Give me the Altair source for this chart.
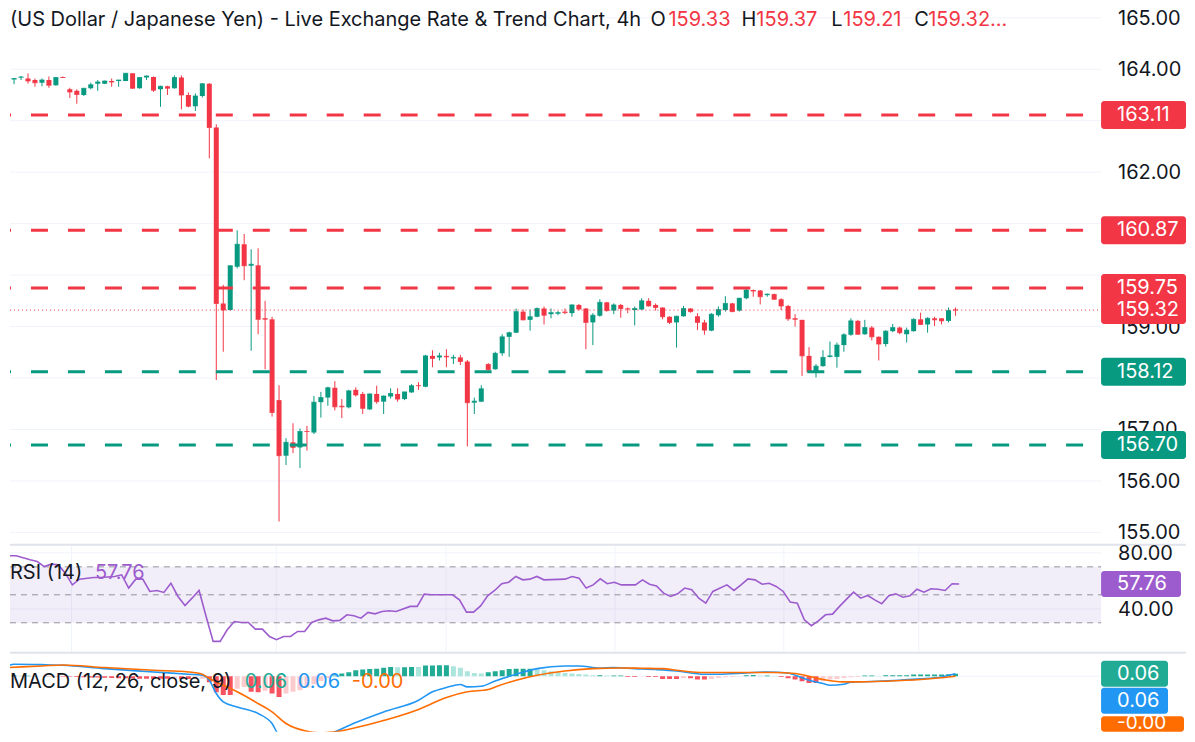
import altair as alt
import numpy as np
import pandas as pd

# USD/JPY 4h candles, oldest first
opens = [163.46, 163.80, 163.84, 163.82, 163.79, 163.74, 163.79, 163.69, 163.85, 163.61,
         163.58, 163.50, 163.63, 163.72, 163.72, 163.77, 163.77, 163.77, 163.92, 163.63,
         163.84, 163.85, 163.61, 163.67, 163.63, 163.84, 163.50, 163.28, 163.48, 163.72,
         162.87, 159.45, 159.32, 160.16, 160.60, 160.18, 160.19, 159.16, 159.14, 157.57,
         156.49, 156.75, 156.65, 156.97, 156.94, 157.53, 157.62, 157.81, 157.46, 157.43,
         157.77, 157.69, 157.39, 157.69, 157.54, 157.64, 157.69, 157.59, 157.72, 157.86,
         157.83, 158.43, 158.40, 158.43, 158.38, 158.40, 158.32, 157.52, 157.54, 158.27,
         158.17, 158.48, 158.80, 158.88, 159.29, 159.13, 159.19, 159.35, 159.24, 159.25,
         159.29, 159.26, 159.42, 159.35, 159.08, 159.21, 159.47, 159.31, 159.42, 159.35,
         159.32, 159.33, 159.50, 159.42, 159.37, 159.19, 159.08, 159.20, 159.35, 159.20,
         159.08, 158.92, 159.22, 159.32, 159.45, 159.31, 159.55, 159.71, 159.70, 159.61,
         159.63, 159.53, 159.40, 159.16, 159.13, 158.43, 158.12, 158.23, 158.41, 158.41,
         158.64, 158.84, 159.11, 158.85, 158.98, 158.80, 158.66, 158.91, 158.98, 158.85,
         158.91, 159.14, 159.04, 159.16, 159.16, 159.11, 159.33]
highs = [163.81, 163.83, 163.87, 163.92, 163.82, 163.82, 163.86, 163.85, 163.86, 163.64,
         163.61, 163.63, 163.74, 163.79, 163.78, 163.82, 163.79, 163.92, 163.92, 163.84,
         163.88, 163.86, 163.68, 163.68, 163.88, 163.88, 163.55, 163.53, 163.73, 163.73,
         162.93, 159.81, 160.19, 160.87, 160.80, 160.50, 160.52, 159.50, 159.19, 157.86,
         156.83, 157.12, 157.02, 157.07, 157.65, 157.73, 157.83, 157.94, 157.59, 157.77,
         157.82, 157.73, 157.70, 157.85, 157.66, 157.80, 157.80, 157.73, 157.88, 157.92,
         158.45, 158.54, 158.49, 158.56, 158.45, 158.45, 158.35, 157.62, 157.86, 158.29,
         158.51, 158.85, 158.90, 159.35, 159.33, 159.33, 159.37, 159.39, 159.35, 159.30,
         159.35, 159.43, 159.44, 159.36, 159.26, 159.53, 159.48, 159.45, 159.44, 159.37,
         159.39, 159.55, 159.55, 159.45, 159.37, 159.20, 159.21, 159.40, 159.36, 159.26,
         159.13, 159.26, 159.39, 159.59, 159.46, 159.56, 159.77, 159.72, 159.71, 159.64,
         159.64, 159.55, 159.42, 159.24, 159.13, 158.60, 158.27, 158.54, 158.71, 158.69,
         158.87, 159.16, 159.13, 159.13, 159.01, 158.81, 158.93, 159.05, 159.00, 158.98,
         159.16, 159.27, 159.18, 159.19, 159.16, 159.37, 159.37]
lows = [163.45, 163.71, 163.79, 163.72, 163.66, 163.67, 163.64, 163.68, 163.83, 163.44,
        163.33, 163.48, 163.61, 163.58, 163.71, 163.66, 163.66, 163.77, 163.62, 163.62,
        163.79, 163.56, 163.27, 163.50, 163.62, 163.22, 163.26, 163.19, 163.45, 162.27,
        157.96, 158.51, 159.31, 160.13, 159.90, 158.53, 158.85, 158.17, 157.25, 155.21,
        156.31, 156.54, 156.25, 156.59, 156.91, 157.23, 157.46, 157.37, 157.22, 157.41,
        157.64, 157.30, 157.38, 157.50, 157.30, 157.60, 157.54, 157.57, 157.71, 157.77,
        157.82, 158.21, 158.34, 158.21, 158.27, 158.25, 156.67, 157.30, 157.53, 158.14,
        158.16, 158.43, 158.41, 158.87, 159.12, 158.92, 159.18, 159.04, 159.16, 159.22,
        159.24, 159.19, 159.31, 158.56, 158.64, 159.19, 159.29, 159.24, 159.17, 159.26,
        159.02, 159.32, 159.39, 159.31, 159.14, 159.05, 158.59, 159.19, 159.27, 158.93,
        158.84, 158.91, 159.19, 159.29, 159.28, 159.29, 159.53, 159.58, 159.43, 159.58,
        159.52, 159.32, 159.11, 159.00, 158.04, 158.10, 158.01, 158.22, 158.40, 158.20,
        158.51, 158.82, 158.84, 158.84, 158.73, 158.34, 158.61, 158.89, 158.85, 158.69,
        158.90, 159.03, 158.88, 159.01, 159.04, 159.08, 159.21]
closes = [163.80, 163.82, 163.85, 163.77, 163.74, 163.79, 163.69, 163.84, 163.84, 163.56,
          163.51, 163.63, 163.70, 163.75, 163.77, 163.75, 163.79, 163.92, 163.63, 163.84,
          163.87, 163.59, 163.67, 163.63, 163.84, 163.50, 163.28, 163.48, 163.72, 162.87,
          159.45, 159.32, 160.18, 160.60, 160.18, 160.21, 159.14, 159.14, 157.33, 156.49,
          156.75, 156.65, 156.96, 156.96, 157.53, 157.62, 157.81, 157.44, 157.44, 157.75,
          157.67, 157.41, 157.69, 157.54, 157.65, 157.70, 157.59, 157.73, 157.85, 157.85,
          158.43, 158.38, 158.43, 158.41, 158.40, 158.32, 157.52, 157.55, 157.79, 158.16,
          158.48, 158.80, 158.88, 159.29, 159.13, 159.19, 159.35, 159.22, 159.27, 159.27,
          159.27, 159.42, 159.34, 159.08, 159.22, 159.47, 159.31, 159.42, 159.35, 159.34,
          159.35, 159.50, 159.40, 159.37, 159.19, 159.08, 159.20, 159.35, 159.29, 159.08,
          158.93, 159.24, 159.33, 159.45, 159.29, 159.55, 159.71, 159.69, 159.58, 159.63,
          159.53, 159.40, 159.15, 159.14, 158.43, 158.12, 158.23, 158.40, 158.43, 158.64,
          158.84, 159.11, 158.85, 158.98, 158.80, 158.66, 158.91, 158.98, 158.88, 158.93,
          159.14, 159.04, 159.16, 159.13, 159.11, 159.31, 159.32]

# horizontal levels
levels = [163.11, 160.87, 159.75, 158.12, 156.70]
level_side = ["above", "above", "above", "below", "below"]
price_ticks = [155, 156, 157, 158, 159, 160, 161, 162, 163, 164, 165]

# RSI (14) line, vertices by candle index
rsi_idx = [0, 2, 4, 5, 6, 7, 8, 9, 10, 11, 13, 14, 16, 17, 18, 19, 20, 21, 22, 23,
           24, 25, 26, 27, 28, 29, 30, 31, 32, 33, 34, 35, 36, 37, 38, 39, 40, 41, 42, 43,
           44, 45, 46, 47, 48, 49, 50, 51, 52, 53, 54, 55, 56, 58, 59, 60, 61, 64, 65, 66,
           67, 68, 69, 70, 71, 72, 73, 74, 75, 76, 77, 80, 81, 82, 83, 84, 85, 86, 87, 88,
           90, 91, 92, 93, 94, 95, 96, 97, 98, 99, 100, 101, 103, 104, 105, 106, 107, 108, 109, 110,
           111, 112, 113, 114, 115, 116, 117, 118, 119, 120, 121, 122, 123, 124, 125, 126, 127, 128, 129, 130,
           131, 132, 133, 134, 135, 136]
rsi_val = [77.9, 77.9, 75.0, 73.8, 70.2, 71.9, 71.4, 65.5, 57.1, 61.2,
           62.4, 62.4, 63.1, 64.3, 54.8, 61.2, 61.2, 52.4, 53.1, 51.7,
           58.3, 48.8, 42.4, 47.6, 53.1, 34.5, 16.7, 16.7, 25.0, 30.9,
           30.2, 30.2, 25.5, 25.5, 20.2, 17.9, 20.2, 20.2, 23.8, 23.8,
           30.2, 32.1, 33.3, 31.4, 31.7, 35.7, 35.0, 33.3, 37.4, 36.4,
           38.1, 38.6, 38.1, 41.7, 41.7, 50.5, 50.0, 50.0, 46.4, 37.6,
           37.6, 42.1, 49.3, 53.1, 57.9, 59.0, 63.1, 60.7, 61.2, 63.1,
           60.7, 61.2, 63.1, 61.9, 54.8, 57.1, 61.4, 57.9, 59.0, 57.1,
           57.1, 60.7, 57.6, 56.4, 51.2, 48.8, 50.7, 54.8, 53.6, 47.6,
           44.0, 52.4, 57.1, 53.1, 57.1, 61.4, 60.7, 57.6, 58.3, 56.0,
           52.4, 44.8, 44.0, 32.1, 27.9, 31.4, 35.7, 36.2, 41.7, 46.9,
           51.9, 47.6, 49.5, 46.4, 43.6, 49.3, 50.7, 48.3, 49.3, 54.0,
           51.9, 54.3, 54.0, 53.1, 57.9, 57.76]
rsi_bands = [70, 50, 30]
rsi_ticks = [80, 40]
rsi_last = 57.76

# MACD (12, 26, close, 9)
macd_idx = [0, 1, 5, 8, 14, 21, 26, 28, 29, 30, 31, 33, 36, 38, 39, 41, 43, 45, 47, 50,
            54, 59, 61, 63, 65, 66, 68, 70, 73, 76, 80, 82, 85, 87, 90, 93, 96, 100, 102, 106,
            109, 112, 113, 115, 117, 118, 120, 121, 124, 128, 131, 134, 136]
macd_val = [0.25, 0.30, 0.29, 0.275, 0.19, 0.108, 0.05, 0.025, -0.10, -0.433,
            -0.642, -0.767, -0.933, -1.183, -1.475, -1.60, -1.617, -1.533, -1.392, -1.158,
            -0.892, -0.60, -0.39, -0.283, -0.208, -0.267, -0.25, -0.117, 0.05, 0.19,
            0.258, 0.258, 0.208, 0.217, 0.19, 0.167, 0.133, 0.05, 0.05, 0.083,
            0.108, 0.083, 0.025, -0.10, -0.183, -0.225, -0.20, -0.15, -0.133, -0.10,
            -0.067, -0.017, 0.06]
signal_idx = [0, 5, 8, 14, 21, 26, 28, 29, 31, 33, 36, 38, 40, 43, 45, 47, 52, 59, 63, 66,
              69, 70, 73, 76, 80, 84, 88, 91, 94, 96, 100, 105, 110, 113, 115, 117, 120, 122, 126, 131,
              136]
signal_val = [0.217, 0.258, 0.283, 0.217, 0.15, 0.108, 0.05, -0.058, -0.225, -0.39,
              -0.683, -0.892, -1.183, -1.375, -1.417, -1.392, -1.20, -0.833, -0.533, -0.39,
              -0.333, -0.267, -0.10, 0.025, 0.133, 0.19, 0.208, 0.20, 0.19, 0.15,
              0.092, 0.092, 0.092, 0.067, 0.0, -0.083, -0.142, -0.142, -0.125, -0.083,
              0.0]
hist_val = [0.02, 0.02, 0.01, 0.01, 0.005, 0.0, -0.005, -0.005, -0.01, -0.015,
            -0.02, -0.025, -0.03, -0.03, -0.04, -0.045, -0.05, -0.05, -0.055, -0.06,
            -0.06, -0.06, -0.065, -0.065, -0.06, -0.065, -0.07, -0.065, -0.06, -0.15,
            -0.40, -0.47, -0.47, -0.31, -0.27, -0.39, -0.40, -0.36, -0.43, -0.52,
            -0.43, -0.39, -0.35, -0.28, -0.20, -0.12, -0.05, 0.02, 0.067, 0.10,
            0.15, 0.167, 0.183, 0.19, 0.21, 0.233, 0.225, 0.225, 0.233, 0.23,
            0.267, 0.267, 0.275, 0.275, 0.25, 0.21, 0.125, 0.083, 0.067, 0.10,
            0.125, 0.15, 0.183, 0.19, 0.19, 0.19, 0.183, 0.15, 0.125, 0.10,
            0.083, 0.067, 0.058, 0.042, 0.025, 0.025, 0.017, 0.017, 0.017, -0.017,
            -0.017, -0.008, -0.017, -0.017, -0.067, -0.067, -0.067, -0.05, -0.05, -0.083,
            -0.083, -0.067, -0.042, -0.025, -0.017, -0.008, 0.025, 0.033, 0.017, 0.017,
            0.008, -0.017, -0.05, -0.083, -0.125, -0.167, -0.167, -0.125, -0.083, -0.067,
            -0.042, -0.025, -0.017, 0.017, 0.017, 0.008, 0.025, 0.025, 0.025, 0.025,
            0.042, 0.042, 0.042, 0.042, 0.042, 0.05, 0.06]
macd_last = [0.06, 0.06, -0.0]   # histogram, macd, signal
macd_ticks = [0]

# day separators (candle index)
day_breaks = [9.8, 38.9, 63.0, 87.0, 111.0, 130.2]

title_text = "(US Dollar / Japanese Yen) - Live Exchange Rate & Trend Chart, 4h"

GREEN = "#089981"
RED = "#f23645"
INK = "#131722"
GRID = "#f0f3fa"
SEP = "#e0e3eb"
PURPLE = "#9d5cce"
TEAL = "#22ab94"
BLUE = "#2196f3"
ORANGE = "#ff6d00"
FONT = "Inter"
FS = 20        # legend text
FS_AX = 20     # price scale text

PX = 7.044     # pixels per candle
PPU = 51.5     # pixels per yen on the price pane
W = 1092       # plot width of every pane
TAG_END = 1177
TXT_X = 1108
HEAD_Y = 12

n = len(opens)
candles = pd.DataFrame({"i": np.arange(n), "open": opens, "high": highs,
                        "low": lows, "close": closes})
candles["col"] = np.where(candles["close"] >= candles["open"], GREEN, RED)
candles["lo"] = candles[["open", "close"]].min(axis=1)
candles["hi"] = candles[["open", "close"]].max(axis=1)

x_scale = alt.Scale(domain=[8 / PX, 1100 / PX], nice=False, zero=False)
x_grid = alt.Axis(values=day_breaks, labels=False, ticks=False, domain=False, grid=True,
                  gridColor=GRID, title=None, minExtent=0, maxExtent=0)
col = alt.Color("col:N", scale=None)


def X(axis=False):
    return alt.X("i:Q", scale=x_scale, axis=x_grid if axis else None)


def Y(field, scale):
    return alt.Y(field, scale=scale, axis=None)


def label(text, x, y, color, size=FS):
    return alt.Chart(pd.DataFrame({"t": [text]})).mark_text(
        align="left", baseline="middle", font=FONT, fontSize=size, color=color
    ).encode(x=alt.value(x), y=alt.value(y), text="t:N")


def scale_marks(ticks, scale, label_ticks=None):
    grid = alt.Chart(pd.DataFrame({"v": ticks})).mark_rule(color=GRID, strokeWidth=1).encode(
        y=Y("v:Q", scale), x=alt.value(0), x2=alt.value(W))
    if not label_ticks:
        return [grid], []
    df = pd.DataFrame({"v": label_ticks, "t": [f"{v:.2f}" for v in label_ticks]})
    txt = alt.Chart(df).mark_text(align="left", baseline="middle", font=FONT,
                                  fontSize=FS_AX, color=INK, yOffset=1).encode(
        y=Y("v:Q", scale), x=alt.value(TXT_X + 1), text="t:N")
    return [grid], [txt]


def tag(value, scale, color, x_end, top=-14, bottom=14, text_dy=0, bottom_px=None, size=FS_AX):
    base = alt.Chart(pd.DataFrame({"v": [value], "t": [f"{value:.2f}"]}))
    if bottom_px is None:
        rect = base.mark_rect(color=color, cornerRadius=3, yOffset=top, y2Offset=bottom).encode(
            y=Y("v:Q", scale), y2="v:Q", x=alt.value(W), x2=alt.value(x_end))
    else:
        rect = base.mark_rect(color=color, cornerRadius=3, yOffset=top).encode(
            y=Y("v:Q", scale), y2=alt.value(bottom_px), x=alt.value(W), x2=alt.value(x_end))
    txt = base.mark_text(align="left", baseline="middle", font=FONT, fontSize=size,
                         color="white", yOffset=text_dy).encode(
        y=Y("v:Q", scale), x=alt.value(TXT_X), text="t:N")
    return [rect, txt]


# ---------------- price pane ----------------
price_scale = alt.Scale(domain=[154.7767, 165.1845], nice=False, zero=False)
tag_prices = levels + [closes[-1]]
# the price scale hides tick labels that sit under a price tag
free_ticks = [t for t in price_ticks if min(abs(t - p) for p in tag_prices) * PPU >= 14]
p_grid, p_labels = scale_marks(price_ticks, price_scale, free_ticks)

wicks = alt.Chart(candles).mark_rule(strokeWidth=1, clip=True).encode(
    x=X(True), y=Y("low:Q", price_scale), y2="high:Q", color=col)
bodies = alt.Chart(candles).mark_bar(size=5, clip=True).encode(
    x=X(), y=Y("lo:Q", price_scale), y2="hi:Q", color=col)
close_ticks = alt.Chart(candles).mark_tick(orient="horizontal", size=5, thickness=1, clip=True).encode(
    x=X(), y=Y("close:Q", price_scale), color=col)

levels_df = pd.DataFrame({"price": levels,
                          "col": [RED if s == "above" else GREEN for s in level_side]})
level_lines = alt.Chart(levels_df).mark_rule(strokeWidth=3, strokeDash=[17, 20], strokeDashOffset=16).encode(
    y=Y("price:Q", price_scale), x=alt.value(0), x2=alt.value(W), color=col)
last_line = alt.Chart(pd.DataFrame({"price": [closes[-1]]})).mark_rule(
    strokeWidth=1, strokeDash=[1, 3], color=RED).encode(
    y=Y("price:Q", price_scale), x=alt.value(0), x2=alt.value(W))

price_layers = p_grid + [wicks, bodies, close_ticks, level_lines, last_line] + p_labels
for p, s in zip(levels, level_side):
    price_layers += tag(p, price_scale, RED if s == "above" else GREEN, TAG_END)
price_layers += tag(closes[-1], price_scale, RED, TAG_END)

last_color = RED if closes[-1] < opens[-1] else GREEN
price_layers += [
    label(title_text, 0, HEAD_Y, INK),
    label("O", 641, HEAD_Y, INK), label(f"{opens[-1]:.2f}", 659, HEAD_Y, last_color),
    label("H", 732, HEAD_Y, INK), label(f"{highs[-1]:.2f}", 747, HEAD_Y, last_color),
    label("L", 822, HEAD_Y, INK), label(f"{lows[-1]:.2f}", 834, HEAD_Y, last_color),
    label("C", 905, HEAD_Y, INK), label(f"{closes[-1]:.2f}...", 919, HEAD_Y, last_color),
]
price = alt.layer(*price_layers).properties(width=W, height=536)

# ---------------- RSI pane ----------------
rsi_scale = alt.Scale(domain=[9.286, 85.0], nice=False, zero=False)
r_grid, r_labels = scale_marks(rsi_ticks, rsi_scale, rsi_ticks)
band = alt.Chart(pd.DataFrame({"top": [rsi_bands[0]], "bottom": [rsi_bands[-1]]})).mark_rect(
    color="#7e57c2", opacity=0.1).encode(
    y=Y("top:Q", rsi_scale), y2="bottom:Q", x=alt.value(0), x2=alt.value(W))
band_lines = alt.Chart(pd.DataFrame({"lvl": rsi_bands})).mark_rule(
    strokeDash=[6, 5], color="#787b86", strokeWidth=1, opacity=0.8).encode(
    y=Y("lvl:Q", rsi_scale), x=alt.value(0), x2=alt.value(W))
rsi_line = alt.Chart(pd.DataFrame({"i": rsi_idx, "rsi": rsi_val})).mark_line(
    color=PURPLE, strokeWidth=1.6, clip=True).encode(x=X(True), y=Y("rsi:Q", rsi_scale))
sep = alt.Chart(pd.DataFrame({"t": [0]})).mark_rule(color=SEP, strokeWidth=2).encode(
    y=alt.value(-1), x=alt.value(0), x2=alt.value(TAG_END))

rsi_layers = r_grid + [band, band_lines, rsi_line, sep] + r_labels + [
    label("RSI (14)", 0, 27, INK), label(f"{rsi_last:.2f}", 85, 27, PURPLE)]
rsi_layers += tag(rsi_last, rsi_scale, PURPLE, 1172, top=-13, bottom=13)
rsi = alt.layer(*rsi_layers).properties(width=W, height=106)

# ---------------- MACD pane ----------------
macd_scale = alt.Scale(domain=[-1.3875, 0.5625], nice=False, zero=False)
m_grid, _ = scale_marks(macd_ticks, macd_scale)
hist_cols = []
prev = 0.0
for h in hist_val:
    if h >= 0:
        hist_cols.append(TEAL if h >= prev else "#ace5dc")
    else:
        hist_cols.append("#f7525f" if h <= prev else "#fccbcd")
    prev = h
hist_df = pd.DataFrame({"i": np.arange(len(hist_val)), "h": hist_val, "col": hist_cols})
hist = alt.Chart(hist_df).mark_bar(size=5, clip=True).encode(
    x=X(True), y=Y("h:Q", macd_scale), y2=alt.datum(0), color=col)
macd_line = alt.Chart(pd.DataFrame({"i": macd_idx, "v": macd_val})).mark_line(
    color=BLUE, strokeWidth=1.6, clip=True, interpolate="monotone").encode(
    x=X(), y=Y("v:Q", macd_scale))
signal_line = alt.Chart(pd.DataFrame({"i": signal_idx, "v": signal_val})).mark_line(
    color=ORANGE, strokeWidth=1.6, clip=True, interpolate="monotone").encode(
    x=X(), y=Y("v:Q", macd_scale))

macd_layers = m_grid + [hist, macd_line, signal_line, sep,
                        label("MACD (12, 26, close, 9)", 0, 28, INK),
                        label(f"{macd_last[0]:.2f}", 235, 28, TEAL),
                        label(f"{macd_last[1]:.2f}", 288, 28, BLUE),
                        label(f"{macd_last[2]:.2f}", 342, 28, ORANGE)]
# value tags on the MACD scale, stacked so they do not overlap
macd_layers += tag(macd_last[0], macd_scale, TEAL, 1159, top=-13, bottom=13)
macd_layers += tag(macd_last[1], macd_scale, BLUE, 1159, top=14, bottom=40, text_dy=27)
macd_layers += tag(macd_last[2], macd_scale, ORANGE, 1175, top=40, text_dy=46.5,
                   bottom_px=78, size=19)
macd = alt.layer(*macd_layers).properties(width=W, height=78)

chart = alt.vconcat(price, rsi, macd, spacing=2, bounds="flush").properties(
    padding=0, background="white"
).configure_view(stroke=None)

chart.save("out.html", embed_options={"renderer": "svg", "actions": False})
